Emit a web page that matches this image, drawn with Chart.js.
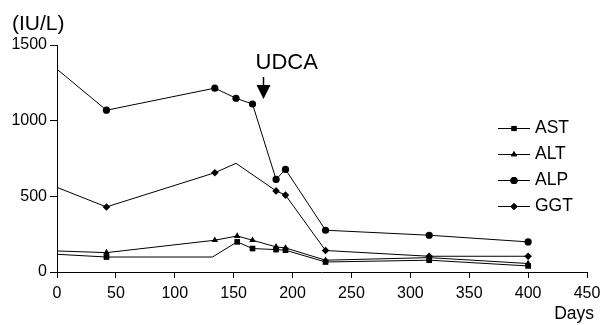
<!DOCTYPE html>
<html>
<head>
<meta charset="utf-8">
<script src="https://cdn.jsdelivr.net/npm/chart.js@4.4.1/dist/chart.umd.min.js"></script>
<style>
  html, body { margin: 0; padding: 0; background: #fff; }
  #wrap { position: relative; width: 600px; height: 325px; }
</style>
</head>
<body>
<div id="wrap"><canvas id="chart"></canvas></div>
<script>
// values (days after onset, IU/L)
const astDays = [0, 42, 132, 153, 166, 186, 194, 228, 316, 400];
const astValues = [117, 99, 99, 199, 155, 148, 144, 66, 78, 40];
const altDays = [0, 42, 134, 153, 166, 186, 194, 228, 316, 400];
const altValues = [139, 128, 210, 238, 210, 166, 159, 78, 95, 56];
const alpDays = [0, 42, 134, 152, 166, 186, 194, 228, 316, 400];
const alpValues = [1340, 1069, 1215, 1148, 1110, 612, 678, 276, 243, 199];
const ggtDays = [0, 42, 134, 152, 186, 194, 228, 316, 400];
const ggtValues = [559, 430, 656, 718, 536, 508, 142, 104, 104];

// points drawn without a marker in the original
const astNoMarker = [0, 2];
const altNoMarker = [0];
const alpNoMarker = [0];
const ggtNoMarker = [0, 3];

const xTickValues = [0, 50, 100, 150, 200, 250, 300, 350, 400, 450];
const yTickValues = [0, 500, 1000, 1500];
const udcaDay = 175;

const fontFamily = '"Liberation Sans", Arial, Helvetica, sans-serif';

function toPoints(days, values) {
  return days.map((day, i) => ({ x: day, y: values[i] }));
}

function series(label, days, values, noMarker, pointStyle, radius) {
  return {
    label,
    data: toPoints(days, values),
    borderColor: '#000',
    backgroundColor: '#000',
    borderWidth: 1,
    pointStyle,
    pointRadius: (ctx) => (noMarker.includes(ctx.dataIndex) ? 0 : radius),
    pointBorderWidth: 0,
    pointHoverRadius: 0,
    tension: 0,
    clip: false
  };
}

const datasets = [
  series('AST', astDays, astValues, astNoMarker, 'rect', 4),
  series('ALT', altDays, altValues, altNoMarker, 'triangle', 3.8),
  series('ALP', alpDays, alpValues, alpNoMarker, 'circle', 3.6),
  series('GGT', ggtDays, ggtValues, ggtNoMarker, 'rectRot', 3.8)
];

const annotations = {
  id: 'annotations',
  afterDraw(chart) {
    const { ctx, scales: { x } } = chart;
    ctx.save();
    ctx.fillStyle = '#000';
    ctx.strokeStyle = '#000';

    ctx.font = `21px ${fontFamily}`;
    ctx.textAlign = 'left';
    ctx.textBaseline = 'middle';
    ctx.fillText('(IU/L)', 12, 24);

    ctx.font = `17.5px ${fontFamily}`;
    ctx.textAlign = 'right';
    ctx.fillText('Days', 594, 314);

    // UDCA arrow
    const ax = Math.round(x.getPixelForValue(udcaDay)) + 0.5;
    ctx.lineWidth = 1.5;
    ctx.beginPath();
    ctx.moveTo(ax, 77);
    ctx.lineTo(ax, 88);
    ctx.stroke();
    ctx.beginPath();
    ctx.moveTo(ax - 7, 85);
    ctx.lineTo(ax + 7, 85);
    ctx.lineTo(ax, 99);
    ctx.closePath();
    ctx.fill();
    ctx.font = `22px ${fontFamily}`;
    ctx.textAlign = 'left';
    ctx.fillText('UDCA', ax - 8, 63);

    // legend: line with marker, then label
    const rowY = [128, 154, 180, 206];
    ctx.font = `17.5px ${fontFamily}`;
    ctx.textAlign = 'left';
    chart.data.datasets.forEach((ds, i) => {
      const yy = rowY[i] + 0.5;
      ctx.lineWidth = 1;
      ctx.beginPath();
      ctx.moveTo(498, yy);
      ctx.lineTo(530, yy);
      ctx.stroke();
      Chart.helpers.drawPoint(ctx, { pointStyle: ds.pointStyle, radius: 3.6, borderWidth: 0 }, 514, yy);
      ctx.fill();
      ctx.fillText(ds.label, 535, yy);
    });
    ctx.restore();
  }
};

new Chart(document.getElementById('chart'), {
  type: 'line',
  data: { datasets },
  options: {
    responsive: true,
    maintainAspectRatio: false,
    animation: false,
    events: [],
    layout: { padding: { left: 0, right: 13, top: 45, bottom: 0 } },
    plugins: { legend: { display: false }, tooltip: { enabled: false } },
    scales: {
      x: {
        type: 'linear',
        min: 0,
        max: 450,
        afterBuildTicks: (scale) => { scale.ticks = xTickValues.map((v) => ({ value: v })); },
        afterFit: (scale) => {
          scale.height = 53;
          scale.paddingLeft = 0;
          scale.paddingRight = 0;
        },
        border: { display: true, color: '#000', width: 1 },
        grid: { drawOnChartArea: false, drawTicks: true, tickLength: 6, color: '#000' },
        ticks: { color: '#000', padding: 6, maxRotation: 0, callback: (v) => String(v), font: { family: fontFamily, size: 16 } }
      },
      y: {
        type: 'linear',
        min: 0,
        max: 1500,
        afterBuildTicks: (scale) => { scale.ticks = yTickValues.map((v) => ({ value: v })); },
        afterFit: (scale) => { scale.width = 57; },
        border: { display: true, color: '#000', width: 1 },
        grid: { drawOnChartArea: false, drawTicks: true, tickLength: 7, color: '#000' },
        ticks: { color: '#000', padding: 3, callback: (v) => String(v), font: { family: fontFamily, size: 16 } }
      }
    }
  },
  plugins: [annotations]
});
</script>
</body>
</html>
